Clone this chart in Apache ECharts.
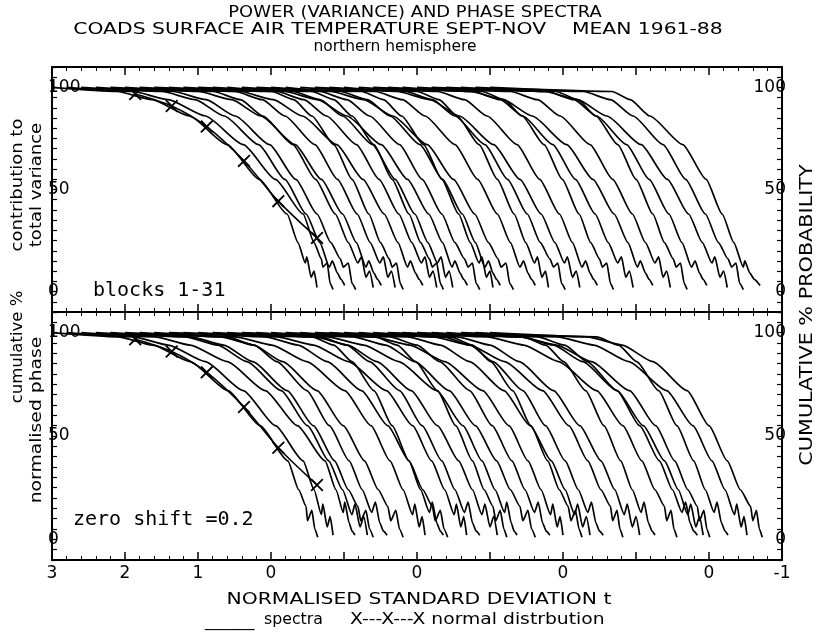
<!DOCTYPE html>
<html>
<head>
<meta charset="utf-8">
<script src="https://cdn.jsdelivr.net/npm/echarts@6/dist/echarts.min.js"></script>
<style>
  html, body { margin: 0; padding: 0; background: #fff; }
  #chart { width: 818px; height: 635px; }
</style>
</head>
<body>
<div id="chart"></div>
<script>
'use strict';

// the last few differ a little so the ragged tails are not all alike
const powerLevelSets = [
  [100, 98, 94, 86, 72, 55, 38, 24, 14, 17, 7, 10, 2],
  [100, 98, 94, 86, 72, 55, 38, 24, 16, 12, 14, 4, 1],
  [100, 98, 94, 86, 72, 55, 38, 24, 12, 15, 9, 6, 3],
];
const powerLevelPick = [0, 1, 2, 1, 0, 2, 0, 1, 2, 0, 1, 0, 2, 1, 0, 2, 1, 2, 0, 1, 0, 2, 1, 0, 2, 0, 1, 2, 0, 1, 2];

const phaseLevelSets = [
  [100, 98, 94, 86, 72, 55, 38, 24, 12, 17, 6, 11, 2],
  [100, 98, 94, 86, 72, 55, 38, 24, 16, 9, 14, 5, 1],
  [100, 98, 94, 86, 72, 55, 38, 24, 13, 18, 8, 4, 2],
];
const phaseLevelPick = [1, 0, 2, 0, 1, 2, 1, 0, 2, 1, 0, 2, 0, 1, 2, 1, 2, 0, 1, 0, 2, 1, 0, 2, 1, 2, 0, 1, 2, 0, 1];

// t positions of the 31 power (variance) spectra, one row per block
const powerSpectra = [
  [3.00, 2.11, 1.63, 1.12, 0.60, 0.16, -0.22, -0.37, -0.47, -0.49, -0.55, -0.59, -0.63],
  [2.80, 1.89, 1.41, 0.90, 0.38, -0.06, -0.44, -0.59, -0.69, -0.71, -0.77, -0.81, -0.85],
  [2.60, 1.49, 1.04, 0.64, 0.17, -0.19, -0.48, -0.67, -0.80, -0.84, -0.91, -0.96, -1.01],
  [2.40, 1.34, 0.89, 0.49, 0.02, -0.34, -0.63, -0.82, -0.95, -0.99, -1.06, -1.11, -1.16],
  [2.20, 0.79, 0.42, 0.11, -0.30, -0.61, -0.88, -1.06, -1.19, -1.24, -1.30, -1.35, -1.40],
  [2.00, 0.99, 0.54, 0.14, -0.33, -0.69, -0.98, -1.17, -1.30, -1.34, -1.41, -1.46, -1.51],
  [1.80, 0.49, 0.12, -0.19, -0.60, -0.91, -1.18, -1.36, -1.49, -1.54, -1.60, -1.65, -1.70],
  [1.60, -0.01, -0.31, -0.56, -0.86, -1.11, -1.34, -1.50, -1.62, -1.66, -1.72, -1.77, -1.81],
  [1.40, 0.42, -0.03, -0.43, -0.90, -1.26, -1.55, -1.74, -1.87, -1.91, -1.98, -2.03, -2.08],
  [1.20, -0.08, -0.45, -0.76, -1.17, -1.48, -1.75, -1.93, -2.06, -2.11, -2.17, -2.22, -2.27],
  [1.00, -0.56, -0.86, -1.11, -1.41, -1.66, -1.89, -2.05, -2.17, -2.21, -2.27, -2.32, -2.36],
  [0.80, -0.30, -0.67, -0.98, -1.39, -1.70, -1.97, -2.15, -2.28, -2.33, -2.39, -2.44, -2.49],
  [0.60, -0.19, -0.64, -1.04, -1.51, -1.87, -2.16, -2.35, -2.48, -2.52, -2.59, -2.64, -2.69],
  [0.40, -0.67, -1.04, -1.35, -1.76, -2.07, -2.34, -2.52, -2.65, -2.70, -2.76, -2.81, -2.86],
  [0.20, -1.24, -1.54, -1.79, -2.09, -2.34, -2.57, -2.73, -2.85, -2.89, -2.95, -3.00, -3.04],
  [0.00, -0.95, -1.32, -1.63, -2.04, -2.35, -2.62, -2.80, -2.93, -2.98, -3.04, -3.09, -3.14],
  [-0.20, -0.82, -1.27, -1.67, -2.14, -2.50, -2.79, -2.98, -3.11, -3.15, -3.22, -3.27, -3.32],
  [-0.40, -1.43, -1.80, -2.11, -2.52, -2.83, -3.10, -3.28, -3.41, -3.46, -3.52, -3.57, -3.62],
  [-0.60, -2.00, -2.30, -2.55, -2.85, -3.10, -3.33, -3.49, -3.61, -3.65, -3.71, -3.76, -3.80],
  [-0.80, -1.84, -2.21, -2.52, -2.93, -3.24, -3.51, -3.69, -3.82, -3.87, -3.93, -3.98, -4.03],
  [-1.00, -1.73, -2.18, -2.58, -3.05, -3.41, -3.70, -3.89, -4.02, -4.06, -4.13, -4.18, -4.23],
  [-1.20, -2.28, -2.65, -2.96, -3.37, -3.68, -3.95, -4.13, -4.26, -4.31, -4.37, -4.42, -4.47],
  [-1.40, -2.89, -3.19, -3.44, -3.74, -3.99, -4.22, -4.38, -4.50, -4.54, -4.60, -4.65, -4.69],
  [-1.60, -2.77, -3.14, -3.45, -3.86, -4.17, -4.44, -4.62, -4.75, -4.80, -4.86, -4.91, -4.96],
  [-1.80, -2.73, -3.18, -3.58, -4.05, -4.41, -4.70, -4.89, -5.02, -5.06, -5.13, -5.18, -5.23],
  [-2.00, -3.28, -3.65, -3.96, -4.37, -4.68, -4.95, -5.13, -5.26, -5.31, -5.37, -5.42, -5.47],
  [-2.20, -3.90, -4.20, -4.45, -4.75, -5.00, -5.23, -5.39, -5.51, -5.55, -5.61, -5.66, -5.70],
  [-2.40, -3.78, -4.15, -4.46, -4.87, -5.18, -5.45, -5.63, -5.76, -5.81, -5.87, -5.92, -5.97],
  [-2.60, -3.75, -4.20, -4.60, -5.07, -5.43, -5.72, -5.91, -6.04, -6.08, -6.15, -6.20, -6.25],
  [-2.80, -4.28, -4.65, -4.96, -5.37, -5.68, -5.95, -6.13, -6.26, -6.31, -6.37, -6.42, -6.47],
  [-3.00, -4.67, -4.92, -5.19, -5.64, -5.96, -6.18, -6.34, -6.47, -6.49, -6.56, -6.62, -6.70],
];

// t positions of the 31 phase spectra
const phaseSpectra = [
  [3.00, 2.10, 1.62, 1.11, 0.59, 0.15, -0.23, -0.38, -0.48, -0.50, -0.56, -0.60, -0.64],
  [2.80, 1.89, 1.41, 0.90, 0.38, -0.06, -0.44, -0.59, -0.69, -0.71, -0.77, -0.81, -0.85],
  [2.60, 1.59, 1.11, 0.60, 0.08, -0.36, -0.74, -0.89, -0.99, -1.01, -1.07, -1.11, -1.15],
  [2.40, 1.18, 0.73, 0.33, -0.14, -0.50, -0.79, -0.98, -1.11, -1.15, -1.22, -1.27, -1.32],
  [2.20, 1.10, 0.65, 0.25, -0.22, -0.58, -0.87, -1.06, -1.19, -1.23, -1.30, -1.35, -1.40],
  [2.00, 0.60, 0.23, -0.08, -0.49, -0.80, -1.07, -1.25, -1.38, -1.43, -1.49, -1.54, -1.59],
  [1.80, 0.69, 0.24, -0.16, -0.63, -0.99, -1.28, -1.47, -1.60, -1.64, -1.71, -1.76, -1.81],
  [1.60, 0.49, -0.01, -0.49, -1.01, -1.37, -1.63, -1.81, -1.94, -1.97, -2.03, -2.07, -2.11],
  [1.40, -0.56, -0.86, -1.11, -1.41, -1.66, -1.89, -2.05, -2.17, -2.21, -2.27, -2.32, -2.36],
  [1.20, 0.08, -0.37, -0.77, -1.24, -1.60, -1.89, -2.08, -2.21, -2.25, -2.32, -2.37, -2.42],
  [1.00, -0.08, -0.58, -1.06, -1.58, -1.94, -2.20, -2.38, -2.51, -2.54, -2.60, -2.64, -2.68],
  [0.80, -0.67, -1.04, -1.35, -1.76, -2.07, -2.34, -2.52, -2.65, -2.70, -2.76, -2.81, -2.86],
  [0.60, -0.60, -1.05, -1.45, -1.92, -2.28, -2.57, -2.76, -2.89, -2.93, -3.00, -3.05, -3.10],
  [0.40, -1.43, -1.73, -1.98, -2.28, -2.53, -2.76, -2.92, -3.04, -3.08, -3.14, -3.19, -3.23],
  [0.20, -0.77, -1.27, -1.75, -2.27, -2.63, -2.89, -3.07, -3.20, -3.23, -3.29, -3.33, -3.37],
  [0.00, -1.12, -1.57, -1.97, -2.44, -2.80, -3.09, -3.28, -3.41, -3.45, -3.52, -3.57, -3.62],
  [-0.20, -1.63, -2.00, -2.31, -2.72, -3.03, -3.30, -3.48, -3.61, -3.66, -3.72, -3.77, -3.82],
  [-0.40, -1.40, -1.90, -2.38, -2.90, -3.26, -3.52, -3.70, -3.83, -3.86, -3.92, -3.96, -4.00],
  [-0.60, -2.46, -2.76, -3.01, -3.31, -3.56, -3.79, -3.95, -4.07, -4.11, -4.17, -4.22, -4.26],
  [-0.80, -1.87, -2.32, -2.72, -3.19, -3.55, -3.84, -4.03, -4.16, -4.20, -4.27, -4.32, -4.37],
  [-1.00, -2.36, -2.73, -3.04, -3.45, -3.76, -4.03, -4.21, -4.34, -4.39, -4.45, -4.50, -4.55],
  [-1.20, -2.22, -2.72, -3.20, -3.72, -4.08, -4.34, -4.52, -4.65, -4.68, -4.74, -4.78, -4.82],
  [-1.40, -2.55, -3.00, -3.40, -3.87, -4.23, -4.52, -4.71, -4.84, -4.88, -4.95, -5.00, -5.05],
  [-1.60, -3.46, -3.76, -4.01, -4.31, -4.56, -4.79, -4.95, -5.07, -5.11, -5.17, -5.22, -5.26],
  [-1.80, -2.96, -3.46, -3.94, -4.46, -4.82, -5.08, -5.26, -5.39, -5.42, -5.48, -5.52, -5.56],
  [-2.00, -3.65, -4.02, -4.33, -4.74, -5.05, -5.32, -5.50, -5.63, -5.68, -5.74, -5.79, -5.84],
  [-2.20, -3.42, -3.87, -4.27, -4.74, -5.10, -5.39, -5.58, -5.71, -5.75, -5.82, -5.87, -5.92],
  [-2.40, -3.41, -3.91, -4.39, -4.91, -5.27, -5.53, -5.71, -5.84, -5.87, -5.93, -5.97, -6.01],
  [-2.60, -4.46, -4.76, -5.01, -5.31, -5.56, -5.79, -5.95, -6.07, -6.11, -6.17, -6.22, -6.26],
  [-2.80, -3.92, -4.42, -4.90, -5.42, -5.78, -6.04, -6.22, -6.35, -6.38, -6.44, -6.48, -6.52],
  [-3.00, -4.33, -4.81, -5.23, -5.70, -6.00, -6.25, -6.43, -6.57, -6.60, -6.65, -6.69, -6.73],
];

// normal distribution crosses
const normalT = [1.86, 1.36, 0.88, 0.37, -0.10, -0.63];
const normalPct = [96.8, 90.9, 80.8, 64.0, 44.3, 26.3];

// odd labels of the original t axis
const xTickValues = [3, 2, 1, 0, -2, -4, -6, -7];
const xTickText = ['3', '2', '1', '0', '0', '0', '0', '-1'];
const yTickValues = [0, 50, 100];

const INK = '#000';
const FONT = 'DejaVu Sans';
const MONO = 'DejaVu Sans Mono';
const WIDE = 1.27; // the plotter lettering is wider than DejaVu
const CROSS = 'path://M0,1L1,0L10,9L9,10ZM9,0L10,1L1,10L0,9Z';

const chart = echarts.init(document.getElementById('chart'));

const xAxisFor = (gridIndex, position, showLabel) => ({
  type: 'value',
  gridIndex,
  position,
  min: -7,
  max: 3,
  interval: 1,
  inverse: true,
  axisLine: { onZero: false, lineStyle: { color: INK, width: 2 } },
  axisTick: { inside: true, length: 8, lineStyle: { color: INK, width: 1.5 } },
  minorTick: { show: true, splitNumber: 5, length: 4, lineStyle: { color: INK, width: 1 } },
  splitLine: { show: false },
  axisLabel: showLabel ? {
    color: INK,
    fontFamily: FONT,
    fontSize: 17,
    margin: 5,
    formatter: (v) => {
      const i = xTickValues.indexOf(v);
      return i >= 0 ? xTickText[i] : '';
    },
  } : { show: false },
});

const yAxisFor = (gridIndex, position) => ({
  type: 'value',
  gridIndex,
  position,
  min: -10,
  max: 110,
  interval: 10,
  axisLine: { show: true, onZero: false, lineStyle: { color: INK, width: 2 } },
  axisTick: { show: true, inside: true, length: 5, lineStyle: { color: INK, width: 1.2 } },
  minorTick: { show: true, splitNumber: 2, length: 5, lineStyle: { color: INK, width: 1.2 } },
  splitLine: { show: false },
  axisLabel: {
    inside: true,
    margin: -4,
    color: INK,
    fontFamily: FONT,
    fontSize: 17,
    formatter: (v) => (yTickValues.includes(v) ? String(v) : ''),
  },
});

const spectra = (rows, sets, pick, xi, yi) => rows.map((row, k) => ({
  type: 'line',
  xAxisIndex: xi,
  yAxisIndex: yi,
  data: row.map((t, i) => [t, sets[pick[k]][i]]),
  symbol: 'none',
  smooth: 0.2,
  smoothMonotone: 'x',
  lineStyle: { color: INK, width: 1.7 },
  silent: true,
  z: 2,
}));

const normal = (xi, yi) => ({
  type: 'line',
  xAxisIndex: xi,
  yAxisIndex: yi,
  data: normalT.map((t, i) => [t, normalPct[i]]),
  symbol: CROSS,
  symbolSize: 13,
  smooth: 0.3,
  itemStyle: { color: INK },
  lineStyle: { color: INK, width: 1.5 },
  silent: true,
  z: 3,
});

const label = (t, x, y, size, opts) => {
  const o = opts || {};
  return {
    type: 'text',
    x,
    y,
    rotation: o.rotation || 0,
    scaleX: o.scaleX || WIDE,
    style: {
      text: t,
      fill: INK,
      font: `${size}px "${o.font || FONT}"`,
      textAlign: o.align || 'center',
      textVerticalAlign: 'middle',
    },
  };
};

const UP = Math.PI / 2;

const option = {
  animation: false,
  backgroundColor: '#fff',
  grid: [
    { left: 52, top: 67, width: 730, height: 245 },
    { left: 52, top: 312, width: 730, height: 248 },
  ],
  xAxis: [
    xAxisFor(0, 'bottom', false),
    xAxisFor(0, 'top', false),
    xAxisFor(1, 'top', false),
    xAxisFor(1, 'bottom', true),
  ],
  yAxis: [
    yAxisFor(0, 'left'),
    yAxisFor(0, 'right'),
    yAxisFor(1, 'left'),
    yAxisFor(1, 'right'),
  ],
  series: [
    ...spectra(powerSpectra, powerLevelSets, powerLevelPick, 0, 0),
    normal(0, 0),
    ...spectra(phaseSpectra, phaseLevelSets, phaseLevelPick, 3, 2),
    normal(3, 2),
  ],
  graphic: [
    label('POWER (VARIANCE) AND PHASE SPECTRA', 415, 13, 16, { scaleX: 1.12 }),
    label('COADS SURFACE AIR TEMPERATURE SEPT-NOV    MEAN 1961-88', 398, 30, 16),
    label('northern hemisphere', 395, 47, 15, { scaleX: 1.03 }),
    label('contribution to', 18, 185, 15, { rotation: UP, scaleX: 1.2 }),
    label('total variance', 37, 185, 15, { rotation: UP, scaleX: 1.2 }),
    label('cumulative %', 18, 347, 15, { rotation: UP, scaleX: 1.1 }),
    label('normalised phase', 37, 420, 15, { rotation: UP, scaleX: 1.25 }),
    label('CUMULATIVE % PROBABILITY', 808, 315, 17, { rotation: UP, scaleX: 1.22 }),
    label('blocks 1-31', 93, 291, 20, { font: MONO, align: 'left', scaleX: 1 }),
    label('zero shift =0.2', 73, 520, 20, { font: MONO, align: 'left', scaleX: 1 }),
    label('NORMALISED STANDARD DEVIATION t', 419, 600, 16),
    label('______', 205, 622, 15, { align: 'left', scaleX: 1.1 }),
    label('spectra', 264, 620, 15, { align: 'left', scaleX: 1.05 }),
    label('X---X---X normal distrbution', 350, 620, 15, { align: 'left', scaleX: 1.25 }),
  ],
};

chart.setOption(option);
</script>
</body>
</html>
